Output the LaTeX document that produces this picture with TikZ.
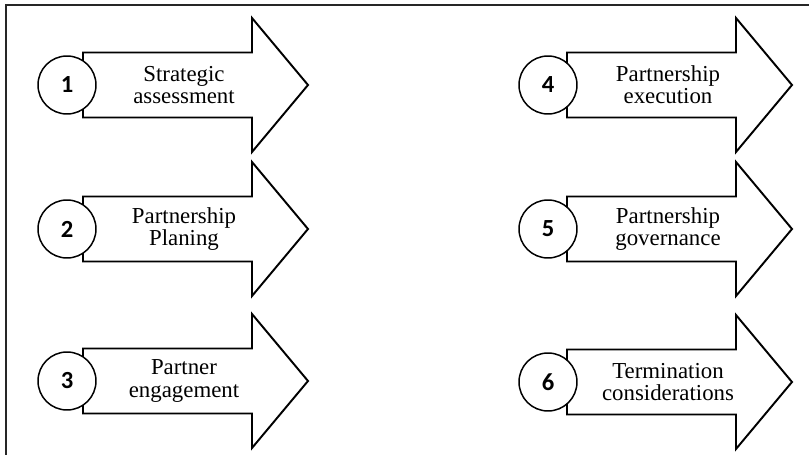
\documentclass[tikz,border=0pt]{standalone}
\usepackage{fontspec}
\setmainfont{Liberation Serif}
\newfontfamily\numfont{Carlito}
\usepackage{tikz}
\usetikzlibrary{positioning}

% one stage arrow, given its left end (x,y) in pixel units
\newcommand{\stagearrow}[2]{%
  \draw[stage] (#1,#2) ++(0,-32.5) -- ++(169,0) -- ++(0,-34.5) -- ++(56,67)
    -- ++(-56,67) -- ++(0,-34.5) -- ++(-169,0) -- cycle;}

\begin{document}
\begin{tikzpicture}[x=0.02cm,y=-0.02cm,
    stage/.style={draw=black,fill=white,line width=1.1pt,line join=miter},
    num/.style={circle,draw=black,fill=white,line width=0.85pt,minimum size=1.16cm,
      inner sep=0pt,font=\numfont\bfseries\fontsize{14}{14}\selectfont},
    lbl/.style={align=center,font=\fontsize{13}{12.6}\selectfont},
    frame/.style={draw=black!85,line width=1.1pt}]
  \useasboundingbox (0,0) rectangle (809,455);
  \draw[frame] (6,455) -- (6,5) -- (809,5);

  % left column
  \stagearrow{83}{85}
  \node[num] (n1) at (67,85) {1};
  \node[lbl] (t1) at (184,85) {Strategic\\assessment};
  \stagearrow{83}{229}
  \node[num] (n2) at (67,229) {2};
  \node[lbl] (t2) at (184,229) {Partnership\\Planing};
  \stagearrow{83}{381}
  \node[num] (n3) at (67,381) {3};
  \node[lbl] (t3) at (184,381) {Partner\\engagement};

  % right column
  \stagearrow{567}{85}
  \node[num] (n4) at (548,85) {4};
  \node[lbl] (t4) at (668,85) {Partnership\\execution};
  \stagearrow{567}{229}
  \node[num] (n5) at (548,229) {5};
  \node[lbl] (t5) at (668,229) {Partnership\\governance};
  \stagearrow{567}{382}
  \node[num] (n6) at (548,382) {6};
  \node[lbl] (t6) at (668,382) {Termination\\considerations};
\end{tikzpicture}
\end{document}
